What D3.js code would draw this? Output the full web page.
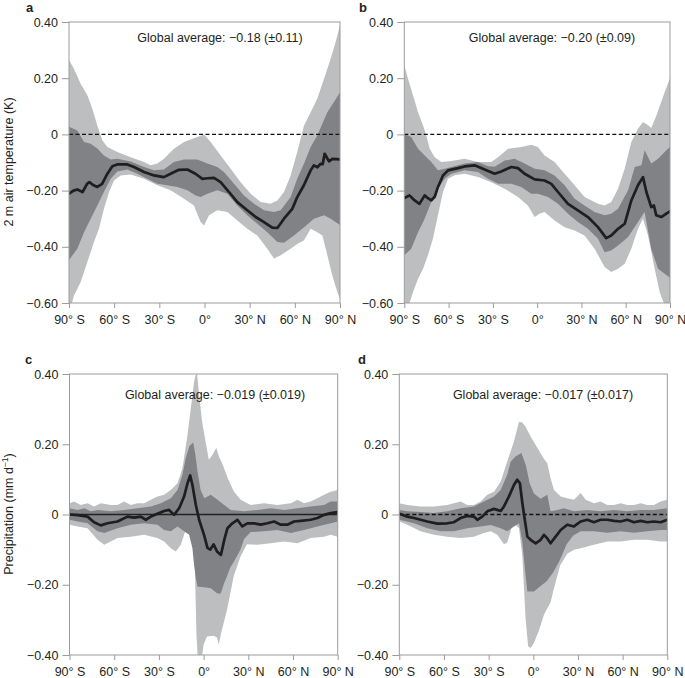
<!DOCTYPE html>
<html><head><meta charset="utf-8">
<script src="https://cdn.jsdelivr.net/npm/d3@7"></script>
<style>
body{margin:0;background:#fff}
svg{display:block}
text{font-family:"Liberation Sans",Arial,Helvetica,sans-serif;fill:#231f20}
</style>
</head><body>
<svg id="chart" width="685" height="678"></svg>
<script>
// ---------- tick labels ----------
const latTicks = [-90, -60, -30, 0, 30, 60, 90];
const latLabels = ["90° S", "60° S", "30° S", "0°", "30° N", "60° N", "90° N"];
const tempTicks = [0.4, 0.2, 0, -0.2, -0.4, -0.6];
const tempLabels = ["0.40", "0.20", "0", "−0.20", "−0.40", "−0.60"];
const precTicks = [0.4, 0.2, 0, -0.2, -0.4];
const precLabels = ["0.40", "0.20", "0", "−0.20", "−0.40"];
const panelLetters = ["a", "b", "c", "d"];
const notes = ["Global average: −0.18 (±0.11)", "Global average: −0.20 (±0.09)",
               "Global average: −0.019 (±0.019)", "Global average: −0.017 (±0.017)"];

// ---------- panel a : 2 m air temperature ----------
const aMean = [[-90,-0.211],[-87,-0.2],[-84.5,-0.196],[-81,-0.205],[-78,-0.176],[-76.5,-0.17],[-74,-0.18],[-71.2,-0.187],[-68,-0.176],[-64.5,-0.14],[-61.2,-0.113],[-58,-0.107],[-51.3,-0.107],[-46.8,-0.116],[-40.2,-0.134],[-33.5,-0.146],[-27,-0.152],[-22.5,-0.14],[-17,-0.126],[-11.4,-0.125],[-6,-0.14],[-1.4,-0.158],[2,-0.156],[6.3,-0.155],[10.7,-0.17],[16.3,-0.205],[21.8,-0.241],[28.4,-0.27],[34,-0.294],[39.5,-0.312],[45,-0.332],[48.4,-0.333],[52.8,-0.30],[58.3,-0.265],[61.6,-0.223],[66,-0.181],[70.5,-0.128],[72.7,-0.11],[75,-0.117],[77,-0.105],[78.5,-0.106],[79.8,-0.069],[81.5,-0.085],[82.7,-0.096],[85,-0.087],[90,-0.089]];
const aDarkHi = [[-90,0.027],[-84.5,0.014],[-80,-0.027],[-75.6,-0.033],[-71.2,-0.05],[-66.8,-0.075],[-62.3,-0.089],[-57.9,-0.087],[-49,-0.096],[-40.2,-0.116],[-33.5,-0.128],[-27,-0.125],[-20.3,-0.098],[-13.6,-0.089],[-4.8,-0.089],[1.9,-0.104],[8.5,-0.116],[12.9,-0.134],[19.6,-0.176],[26.2,-0.217],[32.9,-0.247],[39.5,-0.27],[46.2,-0.276],[50.6,-0.27],[57.2,-0.223],[61.6,-0.158],[66.1,-0.104],[70.5,-0.045],[74.9,-0.004],[81.6,0.079],[86,0.115],[90,0.15]];
const aDarkLo = [[-90,-0.447],[-84.5,-0.407],[-80,-0.348],[-75.6,-0.30],[-71.2,-0.253],[-66.8,-0.205],[-62.3,-0.158],[-57.9,-0.132],[-51.3,-0.125],[-44.6,-0.14],[-38,-0.158],[-31.3,-0.176],[-24.7,-0.181],[-18,-0.187],[-11.4,-0.199],[-5.9,-0.217],[-2.6,-0.223],[1.9,-0.211],[8.5,-0.199],[15.2,-0.211],[21.8,-0.253],[28.4,-0.288],[35.1,-0.318],[41.7,-0.348],[48.4,-0.383],[52.8,-0.386],[59.4,-0.36],[66.1,-0.33],[72.7,-0.30],[79.4,-0.288],[83.8,-0.30],[90,-0.322]];
const aLightHi = [[-90,0.265],[-86.7,0.234],[-82.3,0.18],[-77.8,0.139],[-74.5,0.091],[-71.2,0.032],[-67.9,-0.021],[-64.5,-0.045],[-57.9,-0.063],[-49,-0.081],[-40.2,-0.098],[-35.8,-0.11],[-31.3,-0.104],[-26.9,-0.087],[-20.3,-0.051],[-13.6,-0.027],[-4.8,-0.009],[-0.3,0.0],[4.1,-0.027],[10.7,-0.075],[17.4,-0.122],[24,-0.17],[30.7,-0.211],[37.3,-0.241],[43.9,-0.247],[48.4,-0.235],[52.8,-0.205],[57.2,-0.146],[61.6,-0.063],[66.1,0.032],[70.5,0.079],[74.9,0.127],[79.4,0.198],[83.8,0.269],[87.1,0.329],[90,0.388]];
const aLightLo = [[-90,-0.64],[-86.7,-0.573],[-82.3,-0.526],[-77.8,-0.454],[-73.4,-0.383],[-70.1,-0.336],[-66.8,-0.265],[-63.4,-0.205],[-60.1,-0.164],[-55.7,-0.146],[-49,-0.143],[-40.2,-0.158],[-31.3,-0.181],[-22.5,-0.199],[-13.6,-0.229],[-7,-0.253],[-2.6,-0.312],[-0.3,-0.324],[3,-0.288],[8.5,-0.27],[15.2,-0.276],[21.8,-0.306],[28.4,-0.336],[35.1,-0.36],[41.7,-0.407],[46.2,-0.442],[50.6,-0.43],[57.2,-0.407],[61.6,-0.39],[66.1,-0.377],[70.5,-0.336],[74.9,-0.348],[78.3,-0.36],[81.6,-0.43],[84.9,-0.502],[88.2,-0.561],[90,-0.585]];

// ---------- panel b : 2 m air temperature ----------
const bMean = [[-90,-0.227],[-86.5,-0.217],[-83,-0.235],[-79.7,-0.247],[-76.2,-0.217],[-74,-0.227],[-71.7,-0.235],[-69.4,-0.222],[-67.2,-0.187],[-63.8,-0.146],[-60.4,-0.128],[-53.6,-0.12],[-49.1,-0.114],[-42.3,-0.11],[-35.6,-0.125],[-28.8,-0.14],[-24.3,-0.132],[-17.5,-0.116],[-13,-0.12],[-8.5,-0.14],[-1.7,-0.16],[5,-0.164],[9.6,-0.176],[14.1,-0.205],[20.9,-0.247],[27.6,-0.27],[34.4,-0.294],[41.2,-0.33],[46.8,-0.369],[50.2,-0.36],[54.8,-0.336],[59.3,-0.318],[63.8,-0.235],[68.3,-0.181],[71.7,-0.152],[74,-0.205],[77.3,-0.259],[79.1,-0.253],[80.7,-0.288],[84.1,-0.294],[87.5,-0.282],[90,-0.274]];
const bDarkHi = [[-90,0.002],[-85.3,-0.009],[-80.7,-0.051],[-76.2,-0.075],[-71.7,-0.098],[-67.2,-0.128],[-62.7,-0.122],[-58.2,-0.116],[-49.1,-0.104],[-40.1,-0.098],[-33.3,-0.113],[-28.8,-0.115],[-22,-0.093],[-15.3,-0.087],[-8.5,-0.104],[-1.7,-0.122],[5,-0.128],[11.8,-0.146],[18.6,-0.181],[25.4,-0.229],[32.1,-0.253],[38.9,-0.276],[45.7,-0.288],[50.2,-0.282],[54.8,-0.265],[61.6,-0.199],[66.1,-0.116],[70.6,-0.11],[72.8,-0.056],[75.1,-0.08],[77.3,-0.104],[81.9,-0.087],[86.4,-0.063],[90,-0.044]];
const bDarkLo = [[-90,-0.43],[-85.3,-0.407],[-80.7,-0.348],[-76.2,-0.30],[-71.7,-0.241],[-67.2,-0.193],[-62.7,-0.158],[-58.2,-0.14],[-49.1,-0.128],[-40.1,-0.134],[-33.3,-0.158],[-26.5,-0.176],[-17.5,-0.176],[-10.8,-0.187],[-4,-0.211],[0.5,-0.211],[7.3,-0.223],[14.1,-0.247],[20.9,-0.282],[27.6,-0.312],[34.4,-0.336],[41.2,-0.371],[45.7,-0.419],[50.2,-0.413],[54.8,-0.395],[61.6,-0.365],[68.3,-0.312],[72.8,-0.276],[77.3,-0.407],[81.9,-0.478],[86.4,-0.496],[90,-0.51]];
const bLightHi = [[-90,0.246],[-87.5,0.198],[-84.1,0.139],[-80.7,0.079],[-77.3,0.032],[-75.1,-0.004],[-72.8,-0.051],[-69.4,-0.081],[-64.9,-0.098],[-58.2,-0.095],[-49.1,-0.087],[-40.1,-0.098],[-31.1,-0.098],[-26.5,-0.081],[-19.7,-0.051],[-10.8,-0.045],[-4,-0.037],[0.5,-0.045],[5,-0.075],[11.8,-0.098],[18.6,-0.14],[25.4,-0.181],[32.1,-0.223],[41.2,-0.247],[45.7,-0.253],[50.2,-0.241],[54.8,-0.193],[59.3,-0.122],[63.8,-0.027],[68.3,0.02],[71.7,0.044],[74.5,0.035],[77.3,0.023],[81,0.07],[83,0.1],[86.4,0.15],[90,0.2]];
const bLightLo = [[-90,-0.66],[-84.1,-0.561],[-80.7,-0.514],[-77.3,-0.478],[-74,-0.43],[-70.6,-0.371],[-67.2,-0.288],[-63.8,-0.205],[-60.4,-0.158],[-55.9,-0.145],[-49.1,-0.14],[-40.1,-0.152],[-31.1,-0.17],[-22,-0.193],[-13,-0.223],[-6.3,-0.253],[-1.7,-0.294],[1.6,-0.282],[5,-0.276],[11.8,-0.306],[18.6,-0.33],[25.4,-0.342],[32.1,-0.36],[38.9,-0.407],[45.7,-0.472],[50.2,-0.49],[54.8,-0.478],[59.3,-0.46],[63.8,-0.407],[68.3,-0.336],[71.7,-0.30],[75.1,-0.36],[79.6,-0.478],[83,-0.561],[86.4,-0.609],[90,-0.65]];

// ---------- panel c : precipitation ----------
const cMean = [[-90,0.0],[-84.6,-0.002],[-77.9,-0.006],[-73.5,-0.022],[-69,-0.031],[-64.5,-0.025],[-57.8,-0.02],[-51.1,-0.006],[-46.6,-0.009],[-42.2,-0.006],[-38.8,-0.015],[-35.4,-0.006],[-31,0.002],[-26.5,0.01],[-23.2,0.013],[-19.8,-0.001],[-16.4,0.018],[-13.1,0.051],[-10.8,0.089],[-9,0.111],[-7.5,0.084],[-5.2,0.027],[-3,-0.015],[0.3,-0.058],[2.6,-0.095],[4.5,-0.1],[6.7,-0.085],[9,-0.105],[11.6,-0.115],[14,-0.07],[16,-0.039],[19.3,-0.025],[22.7,-0.015],[26,-0.034],[29.4,-0.025],[33.9,-0.025],[38.3,-0.029],[42.8,-0.025],[47.3,-0.02],[51.8,-0.029],[56.2,-0.029],[60.7,-0.02],[65.2,-0.018],[71.9,-0.015],[76.4,-0.01],[80.8,-0.001],[85.3,0.004],[90,0.007]];
const cDarkHi = [[-90,0.018],[-84.6,0.013],[-80,0.018],[-75.7,0.009],[-71.2,0.013],[-62.3,0.009],[-53.3,0.013],[-44.4,0.018],[-35.4,0.023],[-28.7,0.032],[-22,0.046],[-17.5,0.07],[-14.2,0.113],[-12,0.16],[-9.5,0.195],[-7,0.205],[-5.5,0.17],[-4,0.12],[-2,0.07],[0.5,0.046],[4.8,0.056],[9.3,0.042],[13.8,0.027],[18.2,0.013],[27.2,0.009],[36.1,0.013],[45.1,0.018],[54,0.013],[63,0.018],[71.9,0.023],[80.8,0.027],[85.3,0.037],[90,0.037]];
const cDarkLo = [[-90,-0.015],[-84.6,-0.02],[-77.9,-0.025],[-71.2,-0.048],[-66.7,-0.053],[-57.8,-0.039],[-48.9,-0.029],[-39.9,-0.025],[-31,-0.029],[-26.5,-0.044],[-22,-0.048],[-17.5,-0.034],[-13.1,-0.048],[-9.7,-0.058],[-7.5,-0.096],[-6.4,-0.143],[-5.2,-0.181],[-4.1,-0.205],[0.3,-0.207],[4.8,-0.21],[9.3,-0.225],[11.5,-0.225],[13.8,-0.195],[15.7,-0.176],[18,-0.15],[20.2,-0.135],[24.7,-0.1],[27.2,-0.07],[31.6,-0.05],[40.6,-0.048],[49.5,-0.044],[58.5,-0.053],[67.4,-0.044],[76.4,-0.034],[85.3,-0.025],[90,-0.02]];
const cLightHi = [[-90,0.032],[-86.9,0.037],[-82.4,0.027],[-77.9,0.032],[-73.5,0.023],[-69,0.032],[-62.3,0.027],[-57.8,0.027],[-53.3,0.037],[-48.9,0.027],[-44.4,0.032],[-39.9,0.032],[-35.4,0.042],[-31,0.051],[-26.5,0.056],[-22,0.07],[-17.5,0.089],[-14.2,0.132],[-10.8,0.227],[-8.6,0.302],[-6.4,0.378],[-4.6,0.41],[-3,0.34],[-1,0.264],[1.2,0.21],[3.5,0.156],[6,0.17],[8.5,0.19],[10.3,0.165],[13,0.14],[16,0.105],[20.4,0.065],[24.9,0.042],[31.6,0.027],[40.6,0.032],[49.5,0.027],[58.5,0.032],[63,0.042],[67.4,0.032],[71.9,0.037],[76.4,0.046],[80.8,0.056],[85.3,0.065],[90,0.07]];
const cLightLo = [[-90,-0.029],[-84.6,-0.034],[-77.9,-0.039],[-71.2,-0.072],[-66.7,-0.086],[-62.3,-0.077],[-57.8,-0.067],[-48.9,-0.063],[-39.9,-0.058],[-31,-0.067],[-26.5,-0.077],[-22,-0.096],[-18.6,-0.105],[-15.3,-0.086],[-13.1,-0.058],[-10.8,-0.029],[-8.6,-0.015],[-6.9,-0.02],[-5.8,-0.153],[-4.8,-0.342],[-3.8,-0.42],[-1.5,-0.42],[0,-0.37],[2.3,-0.347],[6.7,-0.345],[9,-0.35],[10.1,-0.371],[11.6,-0.34],[15.7,-0.272],[20.2,-0.176],[24.7,-0.12],[29.1,-0.085],[36.1,-0.086],[45.1,-0.082],[54,-0.077],[63,-0.082],[71.9,-0.067],[80.8,-0.063],[85.3,-0.058],[90,-0.063]];

// ---------- panel d : precipitation ----------
const dMean = [[-90,0.002],[-84.6,-0.006],[-80.1,-0.01],[-75.7,-0.015],[-71.2,-0.02],[-64.5,-0.026],[-57.8,-0.025],[-53.3,-0.022],[-48.8,-0.01],[-44.3,-0.004],[-39.9,-0.006],[-37.6,-0.015],[-34.3,-0.006],[-30.9,0.009],[-26.4,0.016],[-21.9,0.01],[-19.7,0.023],[-16.4,0.051],[-13,0.084],[-10.8,0.099],[-9,0.089],[-7.5,0.037],[-5.9,-0.01],[-4,-0.063],[-1.8,-0.072],[1.6,-0.082],[4.9,-0.072],[7.2,-0.058],[9.4,-0.068],[11.6,-0.082],[15,-0.063],[18.4,-0.044],[22.8,-0.029],[27.3,-0.034],[31.8,-0.02],[36.3,-0.015],[40.7,-0.022],[45.2,-0.015],[49.7,-0.015],[54.2,-0.018],[58.6,-0.02],[63.1,-0.015],[67.6,-0.022],[72.1,-0.018],[76.6,-0.022],[81,-0.02],[85.5,-0.022],[90,-0.015]];
const dDarkHi = [[-90,0.013],[-84.6,0.009],[-75.7,0.007],[-66.7,0.004],[-57.8,0.009],[-48.8,0.018],[-39.9,0.023],[-33.2,0.037],[-26.4,0.051],[-21.9,0.07],[-17.5,0.113],[-15.2,0.15],[-12,0.165],[-8,0.175],[-5,0.14],[-2.5,0.09],[0.4,0.06],[4.9,0.045],[9.4,0.056],[11.6,0.009],[16.1,0.013],[20.6,0.018],[27.3,0.009],[36.3,0.013],[45.2,0.009],[54.2,0.013],[63.1,0.009],[72.1,0.013],[81,0.013],[90,0.018]];
const dDarkLo = [[-90,-0.015],[-80.1,-0.025],[-71.2,-0.039],[-62.2,-0.048],[-53.3,-0.048],[-44.3,-0.039],[-35.4,-0.034],[-28.6,-0.03],[-21.9,-0.039],[-17.5,-0.048],[-13,-0.034],[-9.6,-0.025],[-7.4,-0.077],[-5.2,-0.172],[-4,-0.219],[0.4,-0.219],[4.5,-0.205],[9,-0.19],[13.3,-0.165],[17.8,-0.13],[22.4,-0.085],[26.8,-0.06],[31.8,-0.048],[40.7,-0.048],[49.7,-0.052],[58.6,-0.048],[67.6,-0.052],[76.6,-0.048],[85.5,-0.044],[90,-0.044]];
const dLightHi = [[-90,0.032],[-84.6,0.027],[-75.7,0.023],[-66.7,0.023],[-57.8,0.027],[-53.3,0.032],[-48.8,0.037],[-44.3,0.027],[-39.9,0.027],[-35.4,0.037],[-30.9,0.056],[-26.4,0.065],[-21.9,0.094],[-17.5,0.151],[-13,0.208],[-9.6,0.264],[-7.4,0.262],[-5.2,0.25],[-1.8,0.222],[2.7,0.19],[7.2,0.158],[9.4,0.146],[11.6,0.103],[13.9,0.07],[18.4,0.051],[22.8,0.046],[27.3,0.042],[31.8,0.061],[35.2,0.042],[40.7,0.032],[45.2,0.037],[49.7,0.027],[54.2,0.027],[58.6,0.032],[63.1,0.027],[67.6,0.027],[72.1,0.032],[76.6,0.027],[81,0.027],[85.5,0.037],[90,0.042]];
const dLightLo = [[-90,-0.02],[-84.6,-0.029],[-75.7,-0.048],[-66.7,-0.058],[-57.8,-0.063],[-48.8,-0.067],[-39.9,-0.063],[-33.2,-0.053],[-28.6,-0.048],[-24.2,-0.058],[-19.7,-0.085],[-17.5,-0.08],[-15.2,-0.048],[-14,-0.025],[-11.9,-0.03],[-9.6,-0.039],[-7.4,-0.115],[-5.2,-0.295],[-3.5,-0.375],[-1.8,-0.38],[0.4,-0.366],[3.8,-0.33],[7.2,-0.285],[11.6,-0.25],[13.9,-0.21],[18,-0.145],[22.8,-0.112],[27.3,-0.1],[31.8,-0.096],[40.7,-0.086],[49.7,-0.077],[58.6,-0.077],[67.6,-0.072],[76.6,-0.072],[85.5,-0.077],[90,-0.077]];

// ---------- layout ----------
const panels = [
  {mean:aMean, dHi:aDarkHi, dLo:aDarkLo, lHi:aLightHi, lLo:aLightLo, x0:69, x1:340, yT:22, yB:303, dom:[-0.6,0.4], ticks:tempTicks, labels:tempLabels, dashed:true, noteX:220, noteY:42, letX:26, letY:12},
  {mean:bMean, dHi:bDarkHi, dLo:bDarkLo, lHi:bLightHi, lLo:bLightLo, x0:404.3, x1:670, yT:22, yB:303, dom:[-0.6,0.4], ticks:tempTicks, labels:tempLabels, dashed:true, noteX:552, noteY:42, letX:359, letY:12},
  {mean:cMean, dHi:cDarkHi, dLo:cDarkLo, lHi:cLightHi, lLo:cLightLo, x0:69.5, x1:337.7, yT:374, yB:655, dom:[-0.4,0.4], ticks:precTicks, labels:precLabels, dashed:false, noteX:215, noteY:399, letX:25, letY:364},
  {mean:dMean, dHi:dDarkHi, dLo:dDarkLo, lHi:dLightHi, lLo:dLightLo, x0:399.3, x1:667.3, yT:374, yB:655, dom:[-0.4,0.4], ticks:precTicks, labels:precLabels, dashed:true, noteX:543, noteY:399, letX:358, letY:364}
];

const svg = d3.select("#chart");
const LIGHT = "#bcbec0", DARK = "#808285", LINE = "#1f1d1e", AXIS = "#9b9b9b";

panels.forEach((p, i) => {
  const x = d3.scaleLinear().domain([-90, 90]).range([p.x0, p.x1]);
  const y = d3.scaleLinear().domain(p.dom).range([p.yB, p.yT]);
  const g = svg.append("g");
  const clipId = "clip" + i;
  svg.append("clipPath").attr("id", clipId).append("rect")
    .attr("x", p.x0).attr("y", p.yT).attr("width", p.x1 - p.x0).attr("height", p.yB - p.yT);
  const plot = g.append("g").attr("clip-path", `url(#${clipId})`);
  const line = d3.line().x(d => x(d[0])).y(d => y(d[1]));
  const band = (hi, lo) => line(hi.concat(lo.slice().reverse())) + "Z";

  plot.append("path").attr("d", band(p.lHi, p.lLo)).attr("fill", LIGHT);
  plot.append("path").attr("d", band(p.dHi, p.dLo)).attr("fill", DARK);
  plot.append("path").attr("d", line([[-90, 0], [90, 0]]))
    .attr("stroke", p.dashed ? "#111" : "#222").attr("stroke-width", p.dashed ? 1.3 : 1.4)
    .attr("stroke-dasharray", p.dashed ? "4,2.5" : null).attr("fill", "none");
  plot.append("path").attr("d", line(p.mean)).attr("fill", "none")
    .attr("stroke", LINE).attr("stroke-width", 2.7).attr("stroke-linejoin", "round").attr("stroke-linecap", "round");

  // frame
  g.append("rect").attr("x", p.x0).attr("y", p.yT).attr("width", p.x1 - p.x0).attr("height", p.yB - p.yT)
    .attr("fill", "none").attr("stroke", AXIS).attr("stroke-width", 1);

  // axes
  const ya = g.append("g").attr("transform", `translate(${p.x0},0)`)
    .call(d3.axisLeft(y).tickValues(p.ticks).tickFormat((d, k) => p.labels[k]).tickSize(7).tickPadding(4));
  const xa = g.append("g").attr("transform", `translate(0,${p.yB})`)
    .call(d3.axisBottom(x).tickValues(latTicks).tickFormat((d, k) => latLabels[k]).tickSize(5).tickPadding(7));
  [ya, xa].forEach(a => {
    a.select(".domain").remove();
    a.attr("font-size", null).attr("font-family", null);
    a.selectAll("line").attr("stroke", AXIS);
    a.selectAll("text").attr("fill", "#231f20").style("font-size", "12.5px");
  });

  g.append("text").attr("x", p.noteX).attr("y", p.noteY).attr("text-anchor", "middle")
    .style("font-size", "12.5px").text(notes[i]);
  g.append("text").attr("x", p.letX).attr("y", p.letY)
    .style("font-size", "13px").style("font-weight", "bold").text(panelLetters[i]);
});

// y-axis titles
svg.append("text").attr("transform", "translate(13,162) rotate(-90)").attr("text-anchor", "middle")
  .style("font-size", "12.5px").text("2 m air temperature (K)");
const pt = svg.append("text").attr("transform", "translate(13,514) rotate(-90)").attr("text-anchor", "middle")
  .style("font-size", "12.5px");
pt.append("tspan").text("Precipitation (mm d");
pt.append("tspan").attr("dy", -5).style("font-size", "8.5px").text("−1");
pt.append("tspan").attr("dy", 5).text(")");
</script>
</body></html>
